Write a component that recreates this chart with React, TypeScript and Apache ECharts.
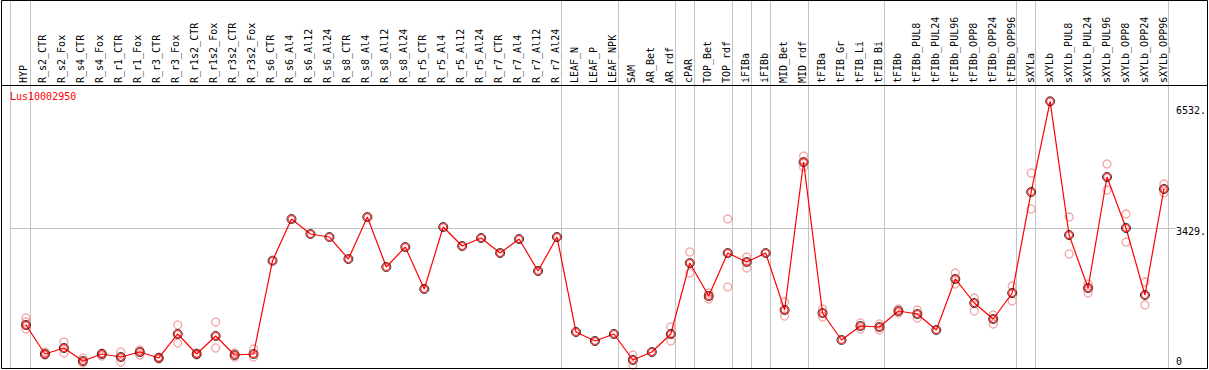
import React, { useEffect, useRef } from "react";
import * as echarts from "echarts";

const geneName = "Lus10002950";

const categories = [
  "HYP",
  "R_s2_CTR", "R_s2_Fox", "R_s4_CTR", "R_s4_Fox", "R_r1_CTR", "R_r1_Fox", "R_r3_CTR", "R_r3_Fox",
  "R_r1s2_CTR", "R_r1s2_Fox", "R_r3s2_CTR", "R_r3s2_Fox",
  "R_s6_CTR", "R_s6_Al4", "R_s6_Al12", "R_s6_Al24",
  "R_s8_CTR", "R_s8_Al4", "R_s8_Al12", "R_s8_Al24",
  "R_r5_CTR", "R_r5_Al4", "R_r5_Al12", "R_r5_Al24",
  "R_r7_CTR", "R_r7_Al4", "R_r7_Al12", "R_r7_Al24",
  "LEAF_N", "LEAF_P", "LEAF_NPK",
  "SAM", "AR_Bet", "AR_rdf", "cPAR", "TOP_Bet", "TOP_rdf", "iFIBa", "iFIBb", "MID_Bet", "MID_rdf",
  "tFIBa", "tFIB_Gr", "tFIB_Li", "tFIB_Bi",
  "tFIBb", "tFIBb_PUL8", "tFIBb_PUL24", "tFIBb_PUL96", "tFIBb_OPP8", "tFIBb_OPP24", "tFIBb_OPP96",
  "sXYLa",
  "sXYLb", "sXYLb_PUL8", "sXYLb_PUL24", "sXYLb_PUL96", "sXYLb_OPP8", "sXYLb_OPP24", "sXYLb_OPP96",
];

const meanValues = [
  1053, 343, 490, 171, 343, 269, 392, 245, 833, 343, 784, 318, 343,
  2628, 3649, 3282, 3208, 2669, 3698, 2473, 2963, 1935, 3453, 2988, 3184, 2816, 3159, 2376, 3208,
  882, 661, 833,
  196, 392, 833, 2571, 1763, 2816, 2596, 2816, 1420, 5045,
  1347, 686, 1029, 1004,
  1396, 1322, 931, 2180, 1592, 1200, 1837,
  4310,
  6532, 3257, 1959, 4678, 3429, 1788, 4384,
];

const N = null;
const rep1 = [
  1225, 392, 637, 245, 367, 392, 441, 269, 1053, 367, 1127, 367, 465,
  N, N, N, N, N, N, N, N, N, N, N, N, N, N, N, N,
  N, N, N,
  318, N, 1004, 2841, 1837, 3649, 2718, N, 1616, 5192,
  1445, N, 1102, 1078,
  1445, 1420, N, 2327, 1714, 1298, 2008,
  4776,
  N, 3698, 2057, 4996, 3771, 2106, 4506,
];
const rep2 = [
  955, 318, 367, 122, 294, 147, 318, 220, 612, 318, 490, 269, 269,
  N, N, N, N, N, N, N, N, N, N, N, N, N, N, N, N,
  N, N, N,
  73, N, 661, 2327, 1690, 1984, 2449, N, 1273, 4922,
  1249, N, 955, 931,
  1347, 1225, N, 2057, 1396, 1078, 1641,
  3894,
  N, 2792, 1837, 4359, 3086, 1543, 4286,
];
const rep3 = categories.map((_, i) => (i === 0 ? 1127 : N));

// last category index of each sample group (a separator is drawn after it)
const groupEnds = [0, 28, 31, 34, 35, 37, 38, 39, 41, 45, 52, 53, 60];
const referenceLine = 3429;

const yTickValues = [0, 3429, 6532];
const yTickLabels = ["0", "3429.", "6532."];

const MONO = "DejaVu Sans Mono";

export default function App() {
  const ref = useRef<HTMLDivElement>(null);

  useEffect(() => {
    if (!ref.current) return;
    const chart = echarts.init(ref.current, null, { renderer: "svg" });

    // layout (pixels)
    const W = 1209;
    const plotLeft = 10.5;
    const plotRight = 1178;
    const plotBottom = 368;
    const firstX = 26;
    const step = 19;
    const topValueY = 101.3;
    const yMax = (yTickValues[2] * plotBottom) / (plotBottom - topValueY);
    const xMin = (plotLeft - firstX) / step;
    const xMax = (plotRight - firstX) / step;

    const repData = (arr: (number | null)[]) =>
      arr.map((v, i) => (v == null ? null : [i, v])).filter((d) => d != null);

    const labelRich: any = {
      t: { fontFamily: MONO, fontSize: 10, color: "#000", padding: [18, 0, 0, 0] },
      m: { fontFamily: MONO, fontSize: 10, color: "#000", padding: [8, 0, 0, 0] },
      b: { fontFamily: MONO, fontSize: 10, color: "#000", padding: [0, 0, 13, 0] },
    };

    chart.setOption({
      animation: false,
      backgroundColor: "#fff",
      grid: [
        { left: plotLeft, top: 0, width: plotRight - plotLeft, height: plotBottom, containLabel: false },
        { left: 14, top: 85, width: step * categories.length, height: 10, containLabel: false },
      ],
      xAxis: [
        {
          type: "value",
          gridIndex: 0,
          min: xMin,
          max: xMax,
          show: false,
        },
        {
          type: "category",
          gridIndex: 1,
          position: "top",
          data: categories,
          boundaryGap: true,
          axisLine: { show: false },
          axisTick: { show: false },
          splitLine: { show: false },
          axisLabel: {
            interval: 0,
            rotate: 90,
            margin: 2,
            fontFamily: MONO,
            fontSize: 10,
            color: "#000",
          },
        },
      ],
      yAxis: [
        {
          type: "value",
          gridIndex: 0,
          position: "right",
          min: 0,
          max: yMax,
          axisLine: { show: false },
          axisTick: { show: false },
          splitLine: { show: false },
          axisLabel: {
            show: true,
            customValues: yTickValues,
            margin: 0,
            align: "left",
            formatter: (v: number) => {
              const k = yTickValues.indexOf(v);
              const txt = k >= 0 ? yTickLabels[k] : String(v);
              const style = k === 0 ? "b" : k === 1 ? "m" : "t";
              return `{${style}|${txt}}`;
            },
            rich: labelRich,
          },
        },
        { type: "value", gridIndex: 1, show: false },
      ],
      series: [
        {
          type: "scatter",
          xAxisIndex: 0,
          yAxisIndex: 0,
          data: [...repData(rep1), ...repData(rep2), ...repData(rep3)],
          symbol: "circle",
          symbolSize: 8,
          itemStyle: { color: "rgba(0,0,0,0)", borderColor: "#f08c8c", borderWidth: 1.3 },
          z: 3,
          silent: true,
        },
        {
          type: "line",
          xAxisIndex: 0,
          yAxisIndex: 0,
          data: meanValues.map((v, i) => [i, v]),
          showSymbol: false,
          symbol: "none",
          lineStyle: { color: "#ff0000", width: 1.2 },
          z: 4,
          silent: true,
          markLine: {
            silent: true,
            symbol: "none",
            label: { show: false },
            lineStyle: { color: "#c4c4c4", width: 1, type: "solid" },
            z: 1,
            data: [
              ...groupEnds.map((g) => ({ xAxis: g + 0.237 })),
              { yAxis: referenceLine },
            ],
          },
        },
        {
          type: "scatter",
          xAxisIndex: 0,
          yAxisIndex: 0,
          data: meanValues.map((v, i) => [i, v]),
          symbol: "circle",
          symbolSize: 9,
          itemStyle: { color: "rgba(0,0,0,0)", borderColor: "#000", borderWidth: 1 },
          z: 5,
          silent: true,
        },
        {
          type: "scatter",
          xAxisIndex: 0,
          yAxisIndex: 0,
          data: meanValues.map((v, i) => [i, v]),
          symbol: "circle",
          symbolSize: 7,
          itemStyle: { color: "rgba(0,0,0,0)", borderColor: "#ff0000", borderWidth: 1.3 },
          z: 6,
          silent: true,
        },
      ],
      graphic: [
        {
          type: "line",
          shape: { x1: plotLeft, y1: 0, x2: plotLeft, y2: plotBottom },
          style: { stroke: "#c4c4c4", lineWidth: 1 },
          z: 1,
        },
        {
          type: "rect",
          shape: { x: 1.5, y: 0.5, width: W - 3, height: plotBottom },
          style: { fill: "none", stroke: "#000", lineWidth: 1 },
          z: 50,
        },
        {
          type: "line",
          shape: { x1: 1.5, y1: 85.5, x2: W - 1.5, y2: 85.5 },
          style: { stroke: "#000", lineWidth: 1 },
          z: 50,
        },
        {
          type: "text",
          left: 10,
          top: 91,
          style: { text: geneName, fill: "#ff0000", font: `10px "${MONO}"` },
          z: 50,
        },
      ],
    });

    return () => chart.dispose();
  }, []);

  return (
    <div
      ref={ref}
      style={{ position: "absolute", left: 0, top: 0, width: 1209, height: 370, background: "#fff" }}
    />
  );
}
